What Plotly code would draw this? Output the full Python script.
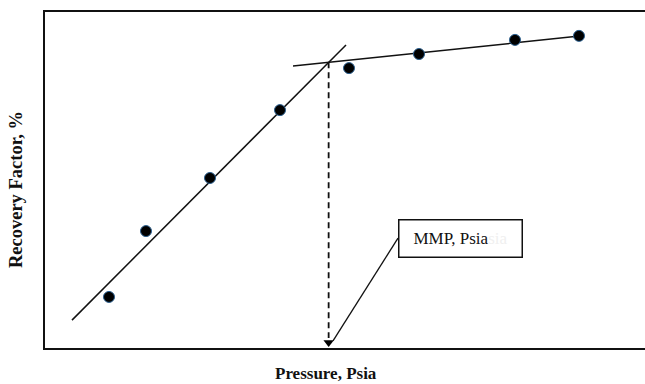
import plotly.graph_objects as go

# ---- data (arbitrary units since axes have no ticks) ----
pressure = [1320, 1505, 1825, 2175, 2520, 2870, 3350, 3670]
recovery = [15.2, 34.8, 50.6, 70.8, 83.3, 87.5, 91.7, 92.9]

# trend-line end points (pressure, recovery)
line1_x = [1135, 2505]
line1_y = [8.3, 90.2]
line2_x = [2240, 3685]
line2_y = [83.9, 92.9]

x_range = [1000, 4000]
y_range = [0, 100]

# callout box anchor (data coords) and callout target
box_x, box_y = 2765, 32.7
callout_end_x, callout_end_y = 2440, 2.1

# ---- intersection (MMP) ----
m1 = (line1_y[1] - line1_y[0]) / (line1_x[1] - line1_x[0])
m2 = (line2_y[1] - line2_y[0]) / (line2_x[1] - line2_x[0])
b1 = line1_y[0] - m1 * line1_x[0]
b2 = line2_y[0] - m2 * line2_x[0]
mmp_x = (b2 - b1) / (m1 - m2)
mmp_y = m1 * mmp_x + b1

font_serif = "Liberation Serif, Times New Roman, serif"

fig = go.Figure()

fig.add_trace(go.Scatter(x=line1_x, y=line1_y, mode="lines",
                         line=dict(color="#111111", width=1.5), hoverinfo="skip"))
fig.add_trace(go.Scatter(x=line2_x, y=line2_y, mode="lines",
                         line=dict(color="#111111", width=1.5), hoverinfo="skip"))
# dashed drop line to the x axis
fig.add_trace(go.Scatter(x=[mmp_x, mmp_x], y=[mmp_y, 3], mode="lines",
                         line=dict(color="#111111", width=1.8, dash="6px,4px"),
                         hoverinfo="skip"))
# arrow head
fig.add_trace(go.Scatter(x=[mmp_x], y=[1.6], mode="markers",
                         marker=dict(symbol="triangle-down", size=9, color="#000000"),
                         hoverinfo="skip"))
# callout connector
fig.add_trace(go.Scatter(x=[box_x, callout_end_x], y=[box_y, callout_end_y], mode="lines",
                         line=dict(color="#111111", width=1.3), hoverinfo="skip"))
# data points
fig.add_trace(go.Scatter(x=pressure, y=recovery, mode="markers",
                         marker=dict(symbol="circle", size=11, color="#000000",
                                     line=dict(color="#2a5f8f", width=1)),
                         hoverinfo="skip"))

fig.add_annotation(x=box_x, y=box_y, xref="x", yref="y",
                   xanchor="left", yanchor="middle", showarrow=False,
                   text="MMP, Psia<span style='color:#f0f0f0'>sia</span>",
                   font=dict(family=font_serif, size=17, color="#111111"),
                   width=118, height=32, borderpad=2, align="center",
                   bordercolor="#111111", borderwidth=1.5, bgcolor="white")

fig.add_annotation(x=0.468, y=0, xref="paper", yref="paper", yshift=-25,
                   xanchor="center", yanchor="middle", showarrow=False,
                   text="<b>Pressure, Psia</b>",
                   font=dict(family=font_serif, size=17, color="#111111"))
fig.add_annotation(x=0, y=0.47, xref="paper", yref="paper", xshift=-29,
                   xanchor="center", yanchor="middle", showarrow=False,
                   textangle=-90, text="<b>Recovery Factor, %</b>",
                   font=dict(family=font_serif, size=18.5, color="#111111"))

fig.update_layout(
    width=645, height=384,
    margin=dict(l=45, r=0, t=12, b=36),
    paper_bgcolor="white", plot_bgcolor="white",
    showlegend=False,
    xaxis=dict(range=x_range, showgrid=False, zeroline=False, showticklabels=False,
               ticks="", showline=True, linecolor="#111111", linewidth=2, mirror=True),
    yaxis=dict(range=y_range, showgrid=False, zeroline=False, showticklabels=False,
               ticks="", showline=True, linecolor="#111111", linewidth=2, mirror=False),
)

fig.write_html("out.html", config={"displayModeBar": False},
               post_script="document.body.style.margin='0';document.body.style.overflow='hidden';")
